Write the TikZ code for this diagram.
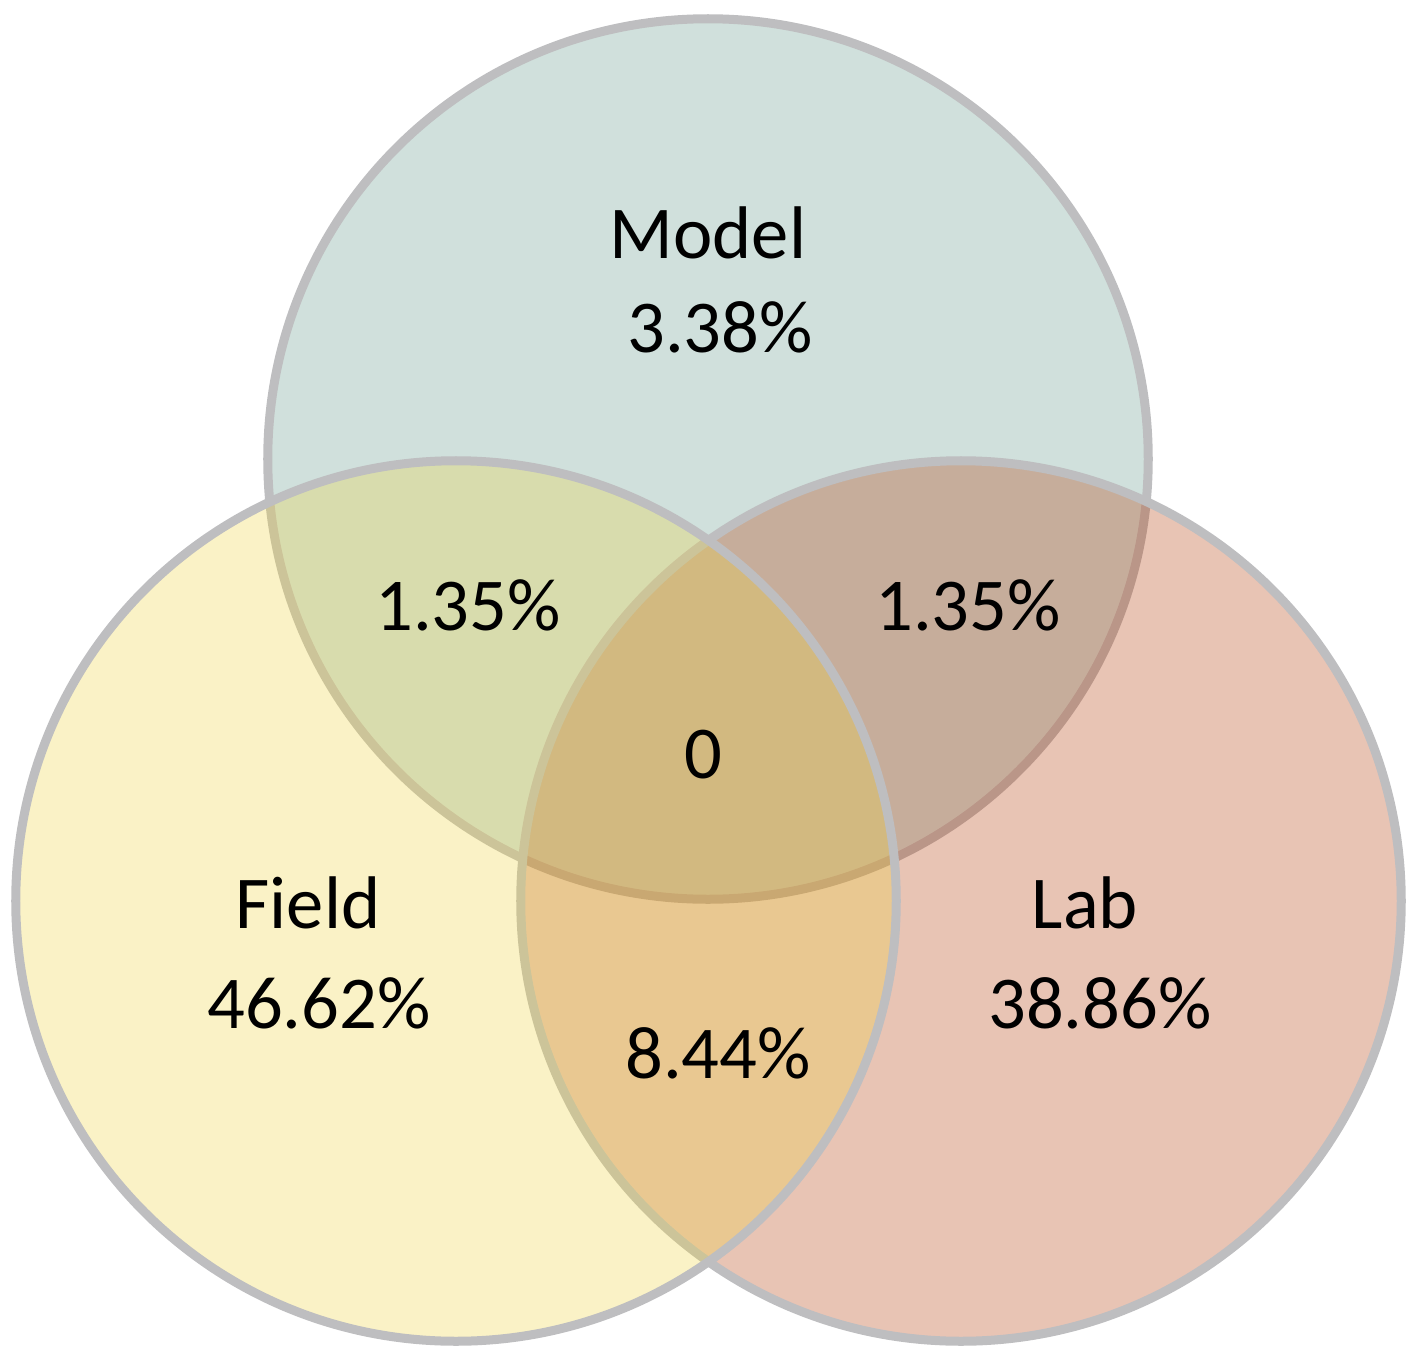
\documentclass[tikz,border=0pt]{standalone}
\usepackage{fontspec}
\setmainfont{Carlito}
\definecolor{modelc}{RGB}{98,152,138}
\definecolor{labc}{RGB}{178,58,8}
\definecolor{fieldc}{RGB}{238,212,65}
\definecolor{rimc}{RGB}{190,190,192}
\begin{document}
\begin{tikzpicture}[x=0.01cm,y=-0.01cm,
  venn/.style={circle, minimum size=8.8cm, inner sep=0pt, draw=rimc, line width=0.09cm, fill opacity=0.3},
  lbl/.style={anchor=base, inner sep=0pt, font=\fontsize{21.2pt}{25pt}\selectfont, text=black}]
\useasboundingbox (0,0) rectangle (1417,1360);
\node[venn, fill=modelc] (model) at (708,459) {};
\node[venn, fill=labc] (lab) at (961,901) {};
\node[venn, fill=fieldc] (field) at (456,901) {};
\node[lbl] (tmodel) at (708,258) {Model};
\node[lbl] (pmodel) at (720,352) {3.38\%};
\node[lbl] (pmf) at (468,630) {1.35\%};
\node[lbl] (pml) at (968,630) {1.35\%};
\node[lbl] (pall) at (703,778) {0};
\node[lbl] (tfield) at (308,928) {Field};
\node[lbl] (pfield) at (319,1028) {46.62\%};
\node[lbl] (tlab) at (1085,928) {Lab};
\node[lbl] (plab) at (1100,1028) {38.86\%};
\node[lbl] (pfl) at (718,1078) {8.44\%};
\end{tikzpicture}
\end{document}
